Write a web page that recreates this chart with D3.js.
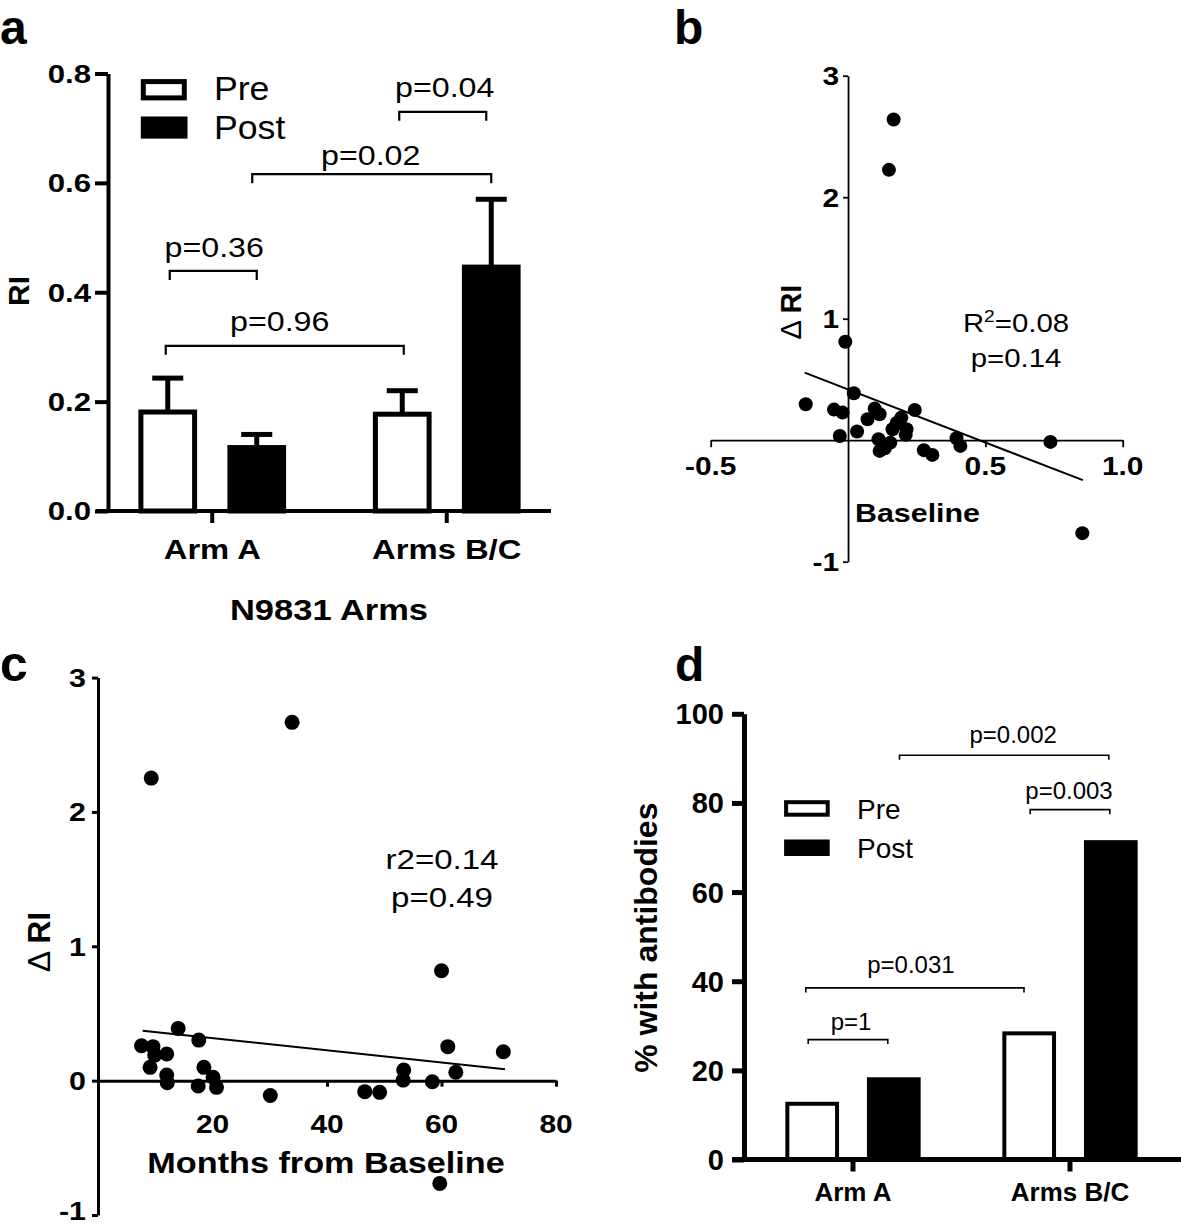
<!DOCTYPE html>
<html><head><meta charset="utf-8">
<script src="https://cdn.jsdelivr.net/npm/d3@7"></script>
<style>
body{margin:0;background:#fff}
svg{display:block}
text{font-family:"Liberation Sans",Arial,Helvetica,sans-serif;fill:#000}
</style>
</head><body>
<svg id="chart" width="1181" height="1227"></svg>
<script>
// ---------------- DATA ----------------
const armCategories = ["Arm A", "Arms B/C"];
const timepoints = ["Pre", "Post"];

// Panel a: RI mean and SEM
const riPre = [0.181, 0.177];
const riPreSem = [0.062, 0.043];
const riPost = [0.116, 0.446];
const riPostSem = [0.024, 0.124];
const riTicks = [0, 0.2, 0.4, 0.6, 0.8];

// Panel b: baseline RI vs change in RI
const baselineRI = [-0.154, 0.021, -0.051, -0.020, -0.030, 0.033, 0.097, 0.115, 0.071, 0.194, 0.177, 0.243, 0.162, 0.213, 0.210, 0.111, 0.115, 0.134, 0.154, 0.276, 0.307, 0.395, 0.409, 0.737, 0.853, 0.166, 0.149, -0.010];
const deltaRIb   = [0.296, 0.387, 0.252, 0.227, 0.035, 0.071, 0.260, 0.214, 0.173, 0.186, 0.142, 0.249, 0.090, 0.090, 0.044, 0.008, -0.088, -0.066, -0.020, -0.082, -0.121, 0.016, -0.047, -0.014, -0.765, 2.640, 2.225, 0.810];
const fitBx = [-0.158, 0.855];
const fitBy = [0.556, -0.329];
const baselineXTicks = [-0.5, 0.5, 1.0];
const deltaYTicksB = [-1, 1, 2, 3];

// Panel c: months from baseline vs change in RI
const monthsFromBaseline = [60.0, 14.0, 17.6, 7.6, 9.6, 12.0, 9.9, 9.1, 12.0, 12.1, 18.5, 20.1, 20.7, 17.5, 30.1, 46.6, 49.2, 53.4, 53.3, 58.4, 61.1, 62.5, 70.8, 59.7, 9.3, 33.9];
const deltaRIc = [0.818, 0.389, 0.302, 0.260, 0.253, 0.198, 0.190, 0.099, 0.042, -0.015, 0.099, 0.025, -0.050, -0.040, -0.110, -0.082, -0.087, 0.079, 0.004, -0.008, 0.253, 0.062, 0.215, -0.765, 2.252, 2.667];
const fitCx = [7.8, 71.1];
const fitCy = [0.372, 0.084];
const monthTicks = [20, 40, 60, 80];
const deltaYTicksC = [-1, 0, 1, 2, 3];

// Panel d: % with antibodies
const pctPre = [12.5, 28.3];
const pctPost = [18.0, 71.2];
const pctTicks = [0, 20, 40, 60, 80, 100];

// Significance annotations (labels + which bars they join)
const bracketsA = [
  {label: "p=0.36", a: ["Arm A", "Pre"], b: ["Arm A", "Post"], level: 0.439, d1: 2, d2: 0, gap: 14, tdx: 1},
  {label: "p=0.96", a: ["Arm A", "Pre"], b: ["Arms B/C", "Pre"], level: 0.302, d1: -2, d2: 1.5, gap: 15, tdx: -5},
  {label: "p=0.02", a: ["Arm A", "Post"], b: ["Arms B/C", "Post"], level: 0.616, d1: -4.5, d2: 0, gap: 9, tdx: -1},
  {label: "p=0.04", a: ["Arms B/C", "Pre"], b: ["Arms B/C", "Post"], level: 0.73, d1: -3, d2: -5, gap: 15, tdx: 2}
];
const bracketsD = [
  {label: "p=0.002", a: ["Arm A", "Post"], b: ["Arms B/C", "Post"], level: 90.7, d1: 5.7, d2: -2, gap: 12, tdx: 9},
  {label: "p=0.003", a: ["Arms B/C", "Pre"], b: ["Arms B/C", "Post"], level: 78.5, d1: 1, d2: -1, gap: 11, tdx: -1},
  {label: "p=0.031", a: ["Arm A", "Pre"], b: ["Arms B/C", "Pre"], level: 38.5, d1: -6.4, d2: -5.2, gap: 15, tdx: -4},
  {label: "p=1", a: ["Arm A", "Pre"], b: ["Arm A", "Post"], level: 26.9, d1: -4, d2: -6, gap: 10, tdx: 3}
];

// ---------------- HELPERS ----------------
const svg = d3.select("#chart");

function txt(g, x, y, s, o = {}) {
  const t = g.append("text")
    .attr("transform", `translate(${x},${y}) rotate(${o.rotate || 0}) scale(${o.sx || 1},1)`)
    .attr("text-anchor", o.anchor || "middle")
    .attr("font-size", o.size || 26)
    .attr("font-weight", o.weight || "normal");
  if (o.dy) t.attr("dy", o.dy);
  if (s !== null) t.text(s);
  return t;
}
function styleAxis(sel, w) {
  sel.selectAll("path, line").attr("stroke", "#000").attr("stroke-width", w);
  sel.selectAll("text").remove();
}

// ---------------- PANEL A ----------------
{
  const g = svg.append("g");
  const y = d3.scaleLinear().domain([0, 0.8]).range([511, 73.5]);
  const x = d3.scaleBand().domain(armCategories).range([95, 564]);
  const x1 = d3.scalePoint().domain(timepoints).range([-44.5, 44.5]);
  const cx = (c, t) => x(c) + x.bandwidth() / 2 + x1(t);
  const bw = 53.7;

  const bars = armCategories.flatMap((c, i) => [
    {c, t: "Pre", v: riPre[i], e: riPreSem[i]},
    {c, t: "Post", v: riPost[i], e: riPostSem[i]}
  ]);

  // error bars (upper only)
  bars.forEach(d => {
    g.append("line").attr("x1", cx(d.c, d.t)).attr("x2", cx(d.c, d.t))
      .attr("y1", y(d.v)).attr("y2", y(d.v + d.e)).attr("stroke", "#000").attr("stroke-width", 5);
    g.append("line").attr("x1", cx(d.c, d.t) - 15.5).attr("x2", cx(d.c, d.t) + 15.5)
      .attr("y1", y(d.v + d.e)).attr("y2", y(d.v + d.e)).attr("stroke", "#000").attr("stroke-width", 5);
  });
  g.selectAll("rect.bar").data(bars).join("rect").attr("class", "bar")
    .attr("x", d => cx(d.c, d.t) - bw / 2).attr("width", bw)
    .attr("y", d => y(d.v)).attr("height", d => y(0) - y(d.v))
    .attr("fill", d => d.t === "Pre" ? "#fff" : "#000")
    .attr("stroke", "#000").attr("stroke-width", 5);

  // axes
  const ya = g.append("g").attr("transform", "translate(108,0)")
    .call(d3.axisLeft(y).tickValues(riTicks).tickSize(13).tickSizeOuter(0));
  styleAxis(ya, 4);
  const xa = g.append("g").attr("transform", `translate(0,${y(0)})`)
    .call(d3.axisBottom(x).tickSize(12).tickSizeOuter(0));
  styleAxis(xa, 4);
  xa.select(".domain").remove();
  g.append("line").attr("x1", 96).attr("x2", 551).attr("y1", y(0)).attr("y2", y(0))
    .attr("stroke", "#000").attr("stroke-width", 4);

  riTicks.forEach(v => txt(g, 91, y(v), v.toFixed(1), {size: 26, weight: "bold", anchor: "end", sx: 1.2, dy: "0.36em"}));
  armCategories.forEach(c => txt(g, x(c) + x.bandwidth() / 2, 559, c, {size: 28, weight: "bold", sx: 1.17}));
  txt(g, 329, 620, "N9831 Arms", {size: 30, weight: "bold", sx: 1.15});
  txt(g, 29, 291, "RI", {size: 30, weight: "bold", rotate: -90});

  // legend
  g.append("rect").attr("x", 143.3).attr("y", 81.6).attr("width", 41).attr("height", 16.3)
    .attr("fill", "#fff").attr("stroke", "#000").attr("stroke-width", 5);
  g.append("rect").attr("x", 140.8).attr("y", 116.5).attr("width", 46.7).attr("height", 22.1).attr("fill", "#000");
  txt(g, 214, 100.4, timepoints[0], {size: 33, anchor: "start", sx: 1.08});
  txt(g, 214, 138.6, timepoints[1], {size: 33, anchor: "start", sx: 1.08});

  // brackets
  bracketsA.forEach(b => {
    const x1p = cx(b.a[0], b.a[1]) + b.d1, x2p = cx(b.b[0], b.b[1]) + b.d2, yy = y(b.level);
    g.append("path").attr("d", `M${x1p},${yy + 9}V${yy}H${x2p}V${yy + 9}`)
      .attr("fill", "none").attr("stroke", "#000").attr("stroke-width", 2.2);
    txt(g, (x1p + x2p) / 2 + b.tdx, yy - b.gap, b.label, {size: 28, sx: 1.15});
  });

  txt(svg, 0, 44, "a", {size: 48, weight: "bold", anchor: "start"});
}

// ---------------- PANEL B ----------------
{
  const g = svg.append("g");
  const x = d3.scaleLinear().domain([-0.5, 1]).range([710.7, 1122.7]);
  const y = d3.scaleLinear().domain([-1, 3]).range([561.7, 75.7]);

  const ya = g.append("g").attr("transform", `translate(${x(0)},0)`)
    .call(d3.axisLeft(y).tickValues(deltaYTicksB).tickSize(5).tickSizeOuter(0));
  styleAxis(ya, 1.8);
  const xa = g.append("g").attr("transform", `translate(0,${y(0)})`)
    .call(d3.axisBottom(x).tickValues(baselineXTicks).tickSize(7).tickSizeOuter(0));
  styleAxis(xa, 1.8);

  deltaYTicksB.forEach(v => txt(g, x(0) - 9, y(v), String(v), {size: 26, weight: "bold", anchor: "end", sx: 1.15, dy: "0.36em"}));
  baselineXTicks.forEach(v => txt(g, x(v), 475, v.toFixed(1), {size: 26, weight: "bold", sx: 1.15}));

  const line = d3.line().x(d => x(d[0])).y(d => y(d[1]));
  g.append("path").attr("d", line(fitBx.map((v, i) => [v, fitBy[i]])))
    .attr("fill", "none").attr("stroke", "#000").attr("stroke-width", 2);

  g.selectAll("circle").data(baselineRI.map((v, i) => [v, deltaRIb[i]])).join("circle")
    .attr("cx", d => x(d[0])).attr("cy", d => y(d[1])).attr("r", 7).attr("fill", "#000");

  const r2 = txt(g, 1016, 331.7, null, {size: 26, sx: 1.13});
  r2.append("tspan").text("R");
  r2.append("tspan").attr("font-size", 17).attr("dy", -10).text("2");
  r2.append("tspan").attr("dy", 10).text("=0.08");
  txt(g, 1016, 367.3, "p=0.14", {size: 26, sx: 1.13});

  const yt = txt(g, 801, 312, null, {size: 29, rotate: -90});
  yt.append("tspan").text("\u0394 ");
  yt.append("tspan").attr("font-weight", "bold").text("RI");

  txt(g, 917.5, 521.7, "Baseline", {size: 26, weight: "bold", sx: 1.17});
  txt(svg, 674, 44, "b", {size: 48, weight: "bold", anchor: "start"});
}

// ---------------- PANEL C ----------------
{
  const g = svg.append("g");
  const x = d3.scaleLinear().domain([0, 80]).range([98, 556]);
  const y = d3.scaleLinear().domain([-1, 3]).range([1215, 677.6]);

  const ya = g.append("g").attr("transform", `translate(${x(0)},0)`)
    .call(d3.axisLeft(y).tickValues(deltaYTicksC).tickSize(6).tickSizeOuter(0));
  styleAxis(ya, 3);
  const xa = g.append("g").attr("transform", `translate(0,${y(0)})`)
    .call(d3.axisBottom(x).tickValues(monthTicks).tickSize(6).tickSizeOuter(0));
  styleAxis(xa, 3);

  // keep the lowest label inside the picture
  deltaYTicksC.forEach(v => txt(g, 86, Math.min(y(v), 1211), String(v), {size: 26, weight: "bold", anchor: "end", sx: 1.17, dy: "0.36em"}));
  monthTicks.forEach(v => txt(g, x(v), 1133, String(v), {size: 26, weight: "bold", sx: 1.15}));

  const line = d3.line().x(d => x(d[0])).y(d => y(d[1]));
  g.append("path").attr("d", line(fitCx.map((v, i) => [v, fitCy[i]])))
    .attr("fill", "none").attr("stroke", "#000").attr("stroke-width", 2);

  g.selectAll("circle").data(monthsFromBaseline.map((v, i) => [v, deltaRIc[i]])).join("circle")
    .attr("cx", d => x(d[0])).attr("cy", d => y(d[1])).attr("r", 7.5).attr("fill", "#000");

  txt(g, 442, 869, "r2=0.14", {size: 28, sx: 1.18});
  txt(g, 442, 907, "p=0.49", {size: 28, sx: 1.18});

  const yt = txt(g, 50, 942, null, {size: 32, rotate: -90});
  yt.append("tspan").text("\u0394 ");
  yt.append("tspan").attr("font-weight", "bold").text("RI");

  txt(g, 326, 1173, "Months from Baseline", {size: 29, weight: "bold", sx: 1.18});
  txt(svg, 0, 681, "c", {size: 50, weight: "bold", anchor: "start"});
}

// ---------------- PANEL D ----------------
{
  const g = svg.append("g");
  const y = d3.scaleLinear().domain([0, 100]).range([1159.5, 713.8]);
  const x = d3.scaleBand().domain(armCategories).range([744.5, 1178.5]);
  const x1 = d3.scalePoint().domain(timepoints).range([-40.8, 40.8]);
  const cx = (c, t) => x(c) + x.bandwidth() / 2 + x1(t);
  const bw = 49.7;

  const bars = armCategories.flatMap((c, i) => [
    {c, t: "Pre", v: pctPre[i]},
    {c, t: "Post", v: pctPost[i]}
  ]);
  g.selectAll("rect.bar").data(bars).join("rect").attr("class", "bar")
    .attr("x", d => cx(d.c, d.t) - bw / 2).attr("width", bw)
    .attr("y", d => y(d.v)).attr("height", d => y(0) - y(d.v))
    .attr("fill", d => d.t === "Pre" ? "#fff" : "#000")
    .attr("stroke", "#000").attr("stroke-width", 4);

  const ya = g.append("g").attr("transform", "translate(744,0)")
    .call(d3.axisLeft(y).tickValues(pctTicks).tickSize(12).tickSizeOuter(0));
  styleAxis(ya, 5);
  const xa = g.append("g").attr("transform", `translate(0,${y(0)})`)
    .call(d3.axisBottom(x).tickSize(12).tickSizeOuter(0));
  styleAxis(xa, 5);
  xa.select(".domain").remove();
  g.append("line").attr("x1", 732).attr("x2", 1181).attr("y1", y(0)).attr("y2", y(0))
    .attr("stroke", "#000").attr("stroke-width", 5);

  pctTicks.forEach(v => txt(g, 724, y(v), String(v), {size: 29, weight: "bold", anchor: "end", dy: "0.36em"}));
  armCategories.forEach(c => txt(g, x(c) + x.bandwidth() / 2, 1201, c, {size: 26, weight: "bold"}));
  txt(g, 657, 937.7, "% with antibodies", {size: 32, weight: "bold", rotate: -90});

  g.append("rect").attr("x", 786.1).attr("y", 802.2).attr("width", 41.6).attr("height", 12.5)
    .attr("fill", "#fff").attr("stroke", "#000").attr("stroke-width", 4);
  g.append("rect").attr("x", 784.1).attr("y", 839.5).attr("width", 45.6).attr("height", 16.5).attr("fill", "#000");
  txt(g, 857, 819, timepoints[0], {size: 28, anchor: "start"});
  txt(g, 857, 858.3, timepoints[1], {size: 28, anchor: "start"});

  bracketsD.forEach(b => {
    const x1p = cx(b.a[0], b.a[1]) + b.d1, x2p = cx(b.b[0], b.b[1]) + b.d2, yy = y(b.level);
    g.append("path").attr("d", `M${x1p},${yy + 4.5}V${yy}H${x2p}V${yy + 4.5}`)
      .attr("fill", "none").attr("stroke", "#000").attr("stroke-width", 1.6);
    txt(g, (x1p + x2p) / 2 + b.tdx, yy - b.gap, b.label, {size: 24});
  });

  txt(svg, 675, 681, "d", {size: 48, weight: "bold", anchor: "start"});
}
</script>
</body></html>
